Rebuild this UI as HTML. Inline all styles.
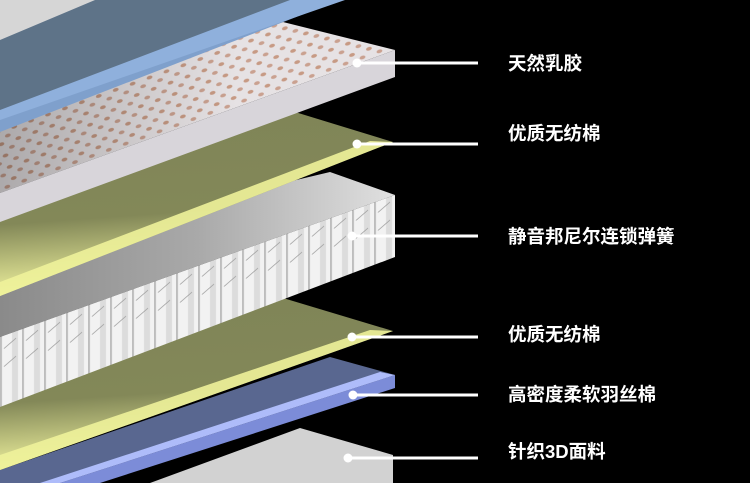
<!DOCTYPE html>
<html><head><meta charset="utf-8"><style>
html,body{margin:0;padding:0;background:#000;}
body{width:750px;height:483px;overflow:hidden;position:relative;}
svg{position:absolute;left:0;top:0;}
.t{font-family:"Liberation Sans","Noto Sans CJK SC",sans-serif;font-weight:bold;font-size:18.5px;fill:#fff;}
</style></head><body>
<svg width="750" height="483" viewBox="0 0 750 483">
<defs>
<pattern id="dots" width="18" height="12" patternUnits="userSpaceOnUse" patternTransform="rotate(-20)">
<rect width="18" height="12" fill="#e6e2e4"/>
<ellipse cx="6" cy="4" rx="3" ry="1.8" fill="#c79a84"/>
<ellipse cx="15" cy="10" rx="3" ry="1.8" fill="#caa190"/>
</pattern>
<pattern id="spr" width="22" height="80" patternUnits="userSpaceOnUse" patternTransform="skewY(-20)">
<rect width="22" height="80" fill="#f2f2f2"/>
<rect x="0" width="2" height="80" fill="#bdbdbd"/>
<rect x="12" width="6" height="80" fill="#dcdcdc"/>
<path d="M4 30 l12 -6 M4 48 l12 -6" stroke="#999" stroke-width="0.8"/>
</pattern>
<linearGradient id="gr1" x1="0" y1="0" x2="0.15" y2="1">
<stop offset="0" stop-color="#7f8457"/><stop offset="0.6" stop-color="#838858"/><stop offset="1" stop-color="#f3f6a0"/>
</linearGradient>
<linearGradient id="gray" x1="0" y1="0" x2="1" y2="0">
<stop offset="0" stop-color="#8a8a8a"/><stop offset="0.5" stop-color="#a9a9a9"/><stop offset="1" stop-color="#e0e0e0"/>
</linearGradient>
<linearGradient id="lat" x1="0" y1="0" x2="1" y2="0">
<stop offset="0" stop-color="#000" stop-opacity="0.25"/><stop offset="0.6" stop-color="#000" stop-opacity="0"/>
</linearGradient>
</defs>

<polygon points="300,428 393,455 393,483 150,483" fill="#d2d2d2"/>
<polygon points="330,357 395,375 60,483 0,483 0,470" fill="#596790"/>
<polygon points="395,375 395,388 100,483 60,483" fill="#7c8cd8"/>
<polygon points="395,375 60,483 40,483 380,372" fill="#aebcfa"/>
<polygon points="283,298 393,331 0,470 0,400" fill="url(#gr1)"/>
<polygon points="393,331 0,470 0,455 370,330" fill="#eef29a" opacity="0.9"/>
<polygon points="330,172 395,195 0,337 0,250" fill="url(#gray)"/>
<polygon points="395,195 395,257 0,407 0,337" fill="url(#spr)"/>
<polygon points="295,112 393,142 0,296 0,220" fill="url(#gr1)"/>
<polygon points="393,142 0,296 0,282 370,141" fill="#eef29a" opacity="0.9"/>
<polygon points="283,22 395,50 0,193 0,120" fill="url(#dots)"/>
<polygon points="283,22 395,50 0,193 0,120" fill="url(#lat)"/>
<polygon points="395,50 395,77 0,222 0,193" fill="#d8d5da"/>
<polygon points="0,0 330,0 0,112" fill="#5e7388"/>
<polygon points="330,0 0,112 0,132 340,0" fill="#7fa0cc"/>
<polygon points="290,0 345,0 0,120 0,110" fill="#8fb0dc"/>
<polygon points="0,0 95,0 0,40" fill="#d6d6d6"/>

<g stroke="#fff" stroke-width="3">
<line x1="357" y1="63" x2="478" y2="63"/>
<line x1="357" y1="144" x2="478" y2="144"/>
<line x1="352" y1="236" x2="478" y2="236"/>
<line x1="352" y1="337" x2="478" y2="337"/>
<line x1="353" y1="395" x2="478" y2="395"/>
<line x1="348" y1="458" x2="478" y2="458"/>
</g>
<g fill="#fff">
<circle cx="357" cy="63" r="4.5"/><circle cx="357" cy="144" r="4.5"/>
<circle cx="352" cy="236" r="4.5"/><circle cx="352" cy="337" r="4.5"/>
<circle cx="353" cy="395" r="4.5"/><circle cx="348" cy="458" r="4.5"/>
</g>
<text class="t" x="508" y="70">天然乳胶</text>
<text class="t" x="508" y="140">优质无纺棉</text>
<text class="t" x="508" y="243">静音邦尼尔连锁弹簧</text>
<text class="t" x="508" y="341">优质无纺棉</text>
<text class="t" x="508" y="401">高密度柔软羽丝棉</text>
<text class="t" x="508" y="458">针织3D面料</text>
</svg>
</body></html>
